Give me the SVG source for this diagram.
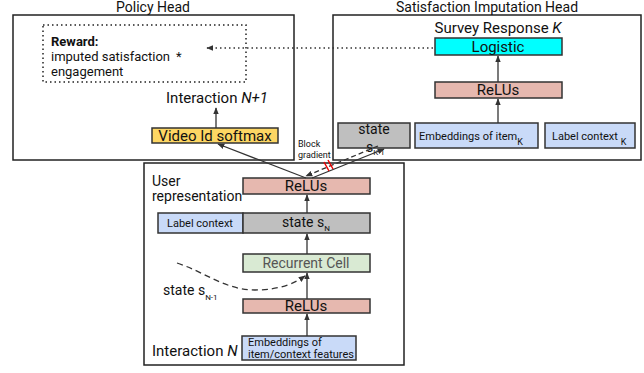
<svg xmlns="http://www.w3.org/2000/svg" width="644" height="373" viewBox="0 0 644 373">
<defs>
<marker id="ah" viewBox="0 0 10 10" refX="9" refY="5" markerWidth="7" markerHeight="7" orient="auto-start-reverse" markerUnits="userSpaceOnUse"><path d="M0,1 L10,5 L0,9 z" fill="#333"/></marker>
</defs>
<style>
text{font-family:Roboto,"Liberation Sans",sans-serif;fill:#111}
.frame{fill:#fff;stroke:#222;stroke-width:1.5}
.box{stroke:#333;stroke-width:1.5}
.relu{fill:#e6b8af}
.blue{fill:#c9daf8}
.gray{fill:#bfbfbf}
.conn{stroke:#333;stroke-width:1.3;fill:none}
.t14{font-size:14px}
.t15{font-size:15px}
.t11{font-size:11px}
</style>
<rect width="644" height="373" fill="#fff"/>
<g id="policy-head">
<rect class="frame" x="13" y="15" width="281" height="145"/>
<text class="t14" x="153" y="12" text-anchor="middle">Policy Head</text>
</g>
<g id="satisfaction-head">
<rect class="frame" x="333" y="15" width="308" height="145"/>
<text class="t14" x="487" y="12" text-anchor="middle">Satisfaction Imputation Head</text>
</g>
<g id="user-representation">
<rect class="frame" x="144" y="163" width="260" height="202"/>
<text class="t14" x="152" y="186">User</text>
<text class="t14" x="152" y="201">representation</text>
</g>
<g id="reward">
<rect x="43" y="25" width="203" height="57" fill="none" stroke="#222" stroke-width="1.5" stroke-dasharray="1.5,3"/>
<text x="51" y="46" font-size="13" font-weight="bold">Reward:</text>
<text x="51" y="61" font-size="13">imputed satisfaction <tspan x="176">*</tspan></text>
<text x="51" y="76" font-size="13">engagement</text>
</g>
<g id="interaction-n1">
<text class="t15" x="217" y="103" text-anchor="middle">Interaction <tspan font-style="italic">N+1</tspan></text>
</g>
<g id="video-softmax">
<rect class="box" x="152" y="128" width="126" height="15" fill="#fdd663"/>
<text class="t15" x="215" y="141" text-anchor="middle">Video Id softmax</text>
</g>
<g id="survey-response">
<text class="t15" x="498" y="33" text-anchor="middle">Survey Response <tspan font-style="italic">K</tspan></text>
</g>
<g id="logistic">
<rect class="box" x="435" y="38" width="127" height="17" fill="#00ffff"/>
<text x="498" y="52" font-size="15" text-anchor="middle">Logistic</text>
</g>
<g id="relus-k">
<rect class="box relu" x="435" y="82" width="127" height="16"/>
<text class="t15" x="498" y="95" text-anchor="middle">ReLUs</text>
</g>
<g id="state-k">
<rect class="box gray" x="338" y="123" width="72" height="25"/>
<text class="t14" x="374" y="134" text-anchor="middle">state</text>
<text class="t14" x="366" y="152">s<tspan font-size="8" dy="3">K-1</tspan></text>
</g>
<g id="embeddings-k">
<rect class="box blue" x="415" y="123" width="123" height="25"/>
<text class="t11" x="419" y="140">Embeddings of item<tspan font-size="9" dy="5">K</tspan></text>
</g>
<g id="label-context-k">
<rect class="box blue" x="545" y="123" width="90" height="25"/>
<text class="t11" x="552" y="140">Label context <tspan font-size="9" dy="5">K</tspan></text>
</g>
<g id="relus-user">
<rect class="box relu" x="243" y="178" width="127" height="16"/>
<text class="t15" x="306" y="191" text-anchor="middle">ReLUs</text>
</g>
<g id="label-context">
<rect class="box blue" x="158" y="213" width="85" height="20"/>
<text class="t11" x="200" y="227" text-anchor="middle">Label context</text>
</g>
<g id="state-n">
<rect class="box gray" x="243" y="213" width="127" height="20"/>
<text class="t14" x="282" y="227">state s<tspan font-size="8" dy="4">N</tspan></text>
</g>
<g id="recurrent-cell">
<rect class="box" x="243" y="254" width="127" height="18" fill="#d9ead3"/>
<text class="t14" x="306" y="268" text-anchor="middle" style="fill:#555">Recurrent Cell</text>
</g>
<g id="relus-bottom">
<rect class="box relu" x="243" y="299" width="127" height="14"/>
<text class="t15" x="306" y="311" text-anchor="middle">ReLUs</text>
</g>
<g id="embeddings">
<rect class="box blue" x="242" y="336" width="114" height="24"/>
<text class="t11" x="248" y="346">Embeddings of</text>
<text class="t11" x="248" y="358">item/context features</text>
</g>
<g id="interaction-n">
<text class="t15" x="152" y="356">Interaction <tspan font-style="italic">N</tspan></text>
</g>
<g id="state-n-1">
<text class="t14" x="163" y="295">state s<tspan font-size="8" dy="5">N-1</tspan></text>
</g>
<g id="block-gradient">
<text x="298" y="147" font-size="9">Block</text>
<text x="298" y="158" font-size="9">gradient</text>
</g>
<g id="connectors">
<path class="conn" d="M433,48 L207,48" stroke-dasharray="1.5,3" marker-end="url(#ah)"/>
<path class="conn" d="M216,128 L216,108" marker-end="url(#ah)"/>
<path class="conn" d="M498,82 L498,56" marker-end="url(#ah)"/>
<path class="conn" d="M498,123 L498,99" marker-end="url(#ah)" stroke-width="1.6" stroke="#111"/>
<path class="conn" d="M306,178 L218,144" marker-end="url(#ah)"/>
<path class="conn" d="M312,178 L384,149" marker-end="url(#ah)"/>
<path class="conn" d="M378,146 L306,176" stroke-dasharray="5,3" marker-end="url(#ah)"/>
<path d="M324,162 L329,171 M328,160 L333,169" stroke="#e00" stroke-width="1.5"/>
<path class="conn" d="M307,213 L307,195" marker-end="url(#ah)"/>
<path class="conn" d="M307,254 L307,234" marker-end="url(#ah)"/>
<path class="conn" d="M307,299 L307,273" marker-end="url(#ah)" stroke="#111" stroke-width="1.8"/>
<path class="conn" d="M307,336 L307,314" marker-end="url(#ah)"/>
<path class="conn" d="M177,263 C205,272 225,290 255,290 C280,290 295,283 305,276" stroke-dasharray="6,4" marker-end="url(#ah)"/>
</g>
</svg>
